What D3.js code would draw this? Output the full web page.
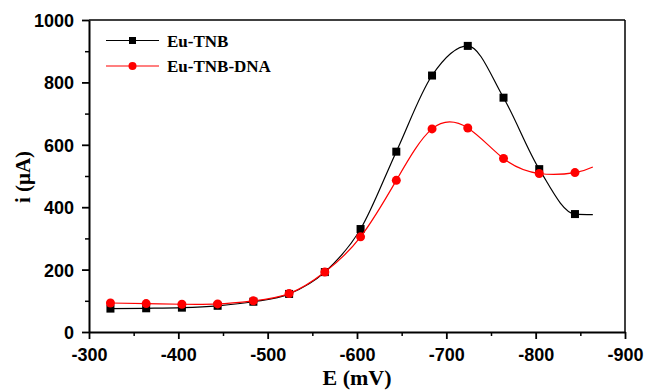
<!DOCTYPE html>
<head>
    <title>Eu-TNB current</title>
    <script src="https://d3js.org/d3.v7.min.js" charset="utf-8"></script>
    <style>
    body { margin: 0; background: #fff; }
    svg { display: block; }
    .tick text { font-family: "Liberation Sans", Arial, sans-serif; font-weight: bold; font-size: 18px; fill: #000; }
    .title { font-family: "Liberation Serif", "Times New Roman", serif; font-weight: bold; }
    </style>
</head>
<body>
<div id="chart"></div>
<script>
    // potentials (mV) where markers were measured
    var potentials = [-324, -364, -404, -444, -484, -524, -564, -604, -644, -684, -724, -764, -804, -844];
    // current (uA)
    var euTNB    = [75, 76, 78, 84, 97, 122, 192, 330, 578, 822, 917, 751, 522, 378];
    var euTNBDNA = [93, 91, 89, 90, 100, 123, 192, 305, 486, 651, 654, 556, 508, 511];
    // curves run a bit past the last marker
    var curveEndE = -864;
    var curveEndTNB = 376;
    var curveEndDNA = 529;

    var xTicks = [-300, -400, -500, -600, -700, -800, -900];
    var xMinor = [-350, -450, -550, -650, -750, -850];
    var yTicks = [0, 200, 400, 600, 800, 1000];
    var yMinor = [100, 300, 500, 700, 900];

    var width = 648, height = 392;
    var pLeft = 89, pRight = 625, pTop = 20, pBottom = 332;

    var svg = d3.select("#chart").append("svg")
        .attr("width", width)
        .attr("height", height);

    var x = d3.scaleLinear().domain([-300, -900]).range([pLeft, pRight]);
    var y = d3.scaleLinear().domain([0, 1000]).range([pBottom, pTop]);

    // frame top/right
    svg.append("line").attr("x1", pLeft).attr("x2", pRight).attr("y1", pTop).attr("y2", pTop)
        .attr("stroke", "#000").attr("stroke-width", 1.3);
    svg.append("line").attr("x1", pRight).attr("x2", pRight).attr("y1", pTop).attr("y2", pBottom)
        .attr("stroke", "#000").attr("stroke-width", 1.5);

    // minor ticks
    svg.append("g").attr("transform", "translate(0," + pBottom + ")")
        .call(d3.axisBottom(x).tickValues(xMinor).tickSize(4).tickFormat(""))
        .call(function(g){ g.select(".domain").remove(); g.selectAll("line").attr("stroke-width", 1.5); });
    svg.append("g").attr("transform", "translate(" + pLeft + ",0)")
        .call(d3.axisLeft(y).tickValues(yMinor).tickSize(4).tickFormat(""))
        .call(function(g){ g.select(".domain").remove(); g.selectAll("line").attr("stroke-width", 1.5); });

    // main axes
    var xAxis = svg.append("g").attr("transform", "translate(0," + pBottom + ")")
        .call(d3.axisBottom(x).tickValues(xTicks).tickSize(7).tickSizeOuter(0).tickPadding(9).tickFormat(d3.format("d")));
    var yAxis = svg.append("g").attr("transform", "translate(" + pLeft + ",0)")
        .call(d3.axisLeft(y).tickValues(yTicks).tickSize(7).tickSizeOuter(0).tickPadding(8).tickFormat(d3.format("d")));
    [xAxis, yAxis].forEach(function(g){
        g.attr("font-family", null).attr("font-size", null);
        g.select(".domain").attr("stroke-width", 2);
        g.selectAll("line").attr("stroke-width", 1.8);
    });
    xAxis.selectAll("text").text(function(d){ return d3.format("d")(d).replace("\u2212", "-"); });
    yAxis.selectAll("text").attr("dy", "0.36em");

    // axis titles
    svg.append("text").attr("class", "title")
        .attr("x", 357).attr("y", 385)
        .attr("text-anchor", "middle")
        .style("font-size", "22px")
        .text("E (mV)");
    svg.append("text").attr("class", "title")
        .attr("transform", "translate(30,177) rotate(-90)")
        .attr("text-anchor", "middle")
        .style("font-size", "21px")
        .text("i (\u03bcA)");

    // curves
    function lineWith(curve) {
        return d3.line()
            .x(function(d){ return x(d[0]); })
            .y(function(d){ return y(d[1]); })
            .curve(curve);
    }

    function series(vals, endVal) {
        var pts = potentials.map(function(e, i){ return [e, vals[i]]; });
        return { marks: pts, curve: pts.concat([[curveEndE, endVal]]) };
    }
    var black = series(euTNB, curveEndTNB);
    var red = series(euTNBDNA, curveEndDNA);

    svg.append("path").datum(black.curve)
        .attr("d", lineWith(d3.curveMonotoneX)).attr("fill", "none").attr("stroke", "#000").attr("stroke-width", 1.2);
    svg.selectAll("rect.mk").data(black.marks).enter().append("rect").attr("class", "mk")
        .attr("x", function(d){ return x(d[0]) - 4; })
        .attr("y", function(d){ return y(d[1]) - 4; })
        .attr("width", 8).attr("height", 8).attr("fill", "#000");

    svg.append("path").datum(red.curve)
        .attr("d", lineWith(d3.curveNatural)).attr("fill", "none").attr("stroke", "#ff0000").attr("stroke-width", 1.2);
    svg.selectAll("circle.mk").data(red.marks).enter().append("circle").attr("class", "mk")
        .attr("cx", function(d){ return x(d[0]); })
        .attr("cy", function(d){ return y(d[1]); })
        .attr("r", 4.5).attr("fill", "#ff0000");

    // legend
    var leg = svg.append("g");
    leg.append("line").attr("x1", 106).attr("x2", 159).attr("y1", 40.5).attr("y2", 40.5)
        .attr("stroke", "#000").attr("stroke-width", 1.2);
    leg.append("rect").attr("x", 129).attr("y", 37).attr("width", 7).attr("height", 7).attr("fill", "#000");
    leg.append("text").attr("class", "title").attr("x", 167).attr("y", 46.5)
        .style("font-size", "17px").text("Eu-TNB");
    leg.append("line").attr("x1", 106).attr("x2", 159).attr("y1", 66).attr("y2", 66)
        .attr("stroke", "#ff0000").attr("stroke-width", 1.2);
    leg.append("circle").attr("cx", 132.5).attr("cy", 66).attr("r", 4).attr("fill", "#ff0000");
    leg.append("text").attr("class", "title").attr("x", 167).attr("y", 72)
        .style("font-size", "17px").text("Eu-TNB-DNA");
</script>
</body>
